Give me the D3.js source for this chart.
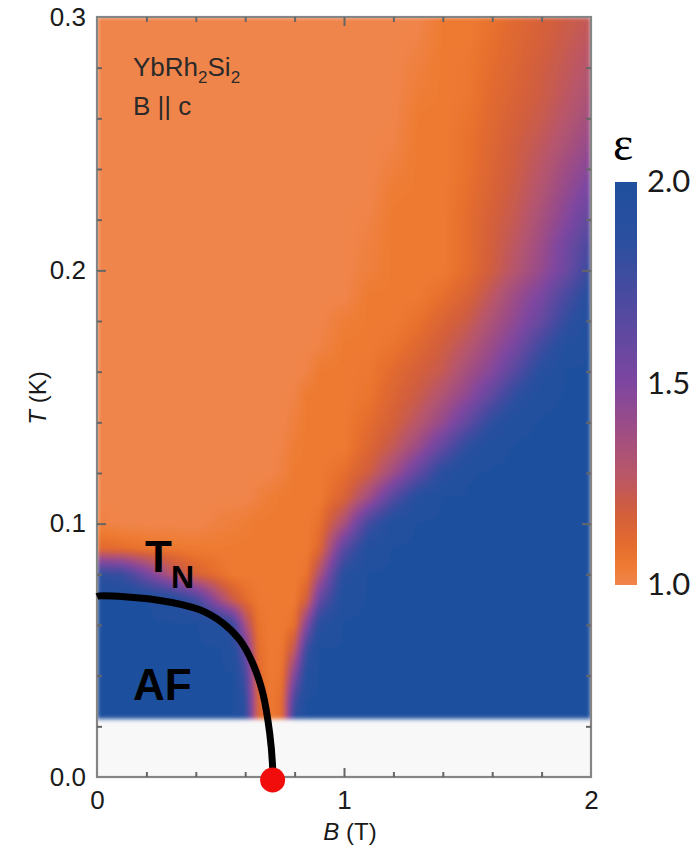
<!DOCTYPE html>
<html>
<head>
<meta charset="utf-8">
<script src="https://cdn.jsdelivr.net/npm/d3@7"></script>
<style>
  body { margin: 0; background: #fff; }
  svg { display: block; }
</style>
</head>
<body>
<svg id="chart" width="698" height="846"></svg>
<script>
// Field grid: magnetic field B (T) columns
const fieldB = [0, 0.1, 0.2, 0.3, 0.4, 0.5, 0.55, 0.6, 0.65, 0.7, 0.75, 0.8, 0.85, 0.9,
                1.0, 1.1, 1.2, 1.3, 1.4, 1.5, 1.6, 1.7, 1.8, 1.9, 2.0];
// Temperature rows (K), listed from the top of the diagram downwards
const fieldT = [0.30, 0.29, 0.28, 0.27, 0.26, 0.25, 0.24, 0.23, 0.22, 0.21, 0.20,
                0.19, 0.18, 0.17, 0.16, 0.15, 0.14, 0.13, 0.12, 0.11, 0.10,
                0.09, 0.08, 0.07, 0.06, 0.05, 0.04, 0.03, 0.023];
// Resistivity exponent epsilon, one row per temperature above
const epsRows = [
  [1,1,1,1,1,1,1,1,1,1,1,1,1,1,1,1,1,1,1.05,1.05,1.08,1.12,1.16,1.2,1.24],
  [1,1,1,1,1,1,1,1,1,1,1,1,1,1,1,1,1,1.01,1.05,1.05,1.09,1.13,1.17,1.22,1.27],
  [1,1,1,1,1,1,1,1,1,1,1,1,1,1,1,1,1,1.025,1.05,1.06,1.1,1.14,1.19,1.24,1.3],
  [1,1,1,1,1,1,1,1,1,1,1,1,1,1,1,1,1,1.035,1.05,1.06,1.11,1.15,1.2,1.26,1.33],
  [1,1,1,1,1,1,1,1,1,1,1,1,1,1,1,1,1,1.05,1.05,1.07,1.12,1.17,1.22,1.29,1.37],
  [1,1,1,1,1,1,1,1,1,1,1,1,1,1,1,1,1.01,1.05,1.05,1.08,1.13,1.19,1.25,1.33,1.42],
  [1,1,1,1,1,1,1,1,1,1,1,1,1,1,1,1,1.025,1.05,1.05,1.08,1.14,1.2,1.28,1.38,1.48],
  [1,1,1,1,1,1,1,1,1,1,1,1,1,1,1,1,1.045,1.05,1.05,1.09,1.15,1.22,1.31,1.43,1.55],
  [1,1,1,1,1,1,1,1,1,1,1,1,1,1,1,1.01,1.05,1.05,1.05,1.1,1.17,1.24,1.35,1.48,1.63],
  [1,1,1,1,1,1,1,1,1,1,1,1,1,1,1,1.02,1.05,1.05,1.05,1.1,1.18,1.27,1.39,1.55,1.72],
  [1,1,1,1,1,1,1,1,1,1,1,1,1,1,1,1.025,1.05,1.05,1.05,1.1,1.19,1.3,1.42,1.57,1.8],
  [1,1,1,1,1,1,1,1,1,1,1,1,1,1,1,1.05,1.05,1.05,1.09,1.15,1.26,1.4,1.52,1.72,1.9],
  [1,1,1,1,1,1,1,1,1,1,1,1,1,1,1.035,1.05,1.05,1.08,1.14,1.21,1.33,1.45,1.6,1.82,1.96],
  [1,1,1,1,1,1,1,1,1,1,1,1,1,1.01,1.05,1.05,1.07,1.12,1.19,1.28,1.4,1.54,1.76,1.94,2],
  [1,1,1,1,1,1,1,1,1,1,1,1,1.01,1.05,1.05,1.06,1.11,1.17,1.23,1.36,1.48,1.68,1.9,2,2],
  [1,1,1,1,1,1,1,1,1,1,1,1.01,1.05,1.05,1.05,1.07,1.14,1.21,1.32,1.45,1.64,1.86,1.98,2,2],
  [1,1,1,1,1,1,1,1,1,1,1,1.025,1.05,1.05,1.05,1.1,1.17,1.28,1.42,1.62,1.85,1.98,2,2,2],
  [1,1,1,1,1,1,1,1,1,1,1.01,1.04,1.05,1.05,1.05,1.13,1.24,1.4,1.62,1.86,1.98,2,2,2,2],
  [1,1,1,1,1,1,1,1,1,1,1.02,1.05,1.05,1.05,1.09,1.19,1.38,1.62,1.88,1.99,2,2,2,2,2],
  [1,1,1,1,1,1,1,1,1.02,1.04,1.05,1.05,1.05,1.05,1.15,1.38,1.68,1.92,2,2,2,2,2,2,2],
  [1.02,1,1,1,1,1.02,1.03,1.04,1.05,1.05,1.05,1.05,1.05,1.08,1.34,1.75,1.96,2,2,2,2,2,2,2,2],
  [1.12,1.1,1.07,1.06,1.05,1.05,1.05,1.05,1.05,1.05,1.05,1.05,1.05,1.12,1.65,1.95,2,2,2,2,2,2,2,2,2],
  [1.85,1.8,1.55,1.3,1.15,1.08,1.05,1.05,1.05,1.05,1.05,1.05,1.07,1.32,1.9,2,2,2,2,2,2,2,2,2,2],
  [2,2,2,1.95,1.75,1.35,1.2,1.1,1.06,1.05,1.05,1.05,1.17,1.6,1.97,2,2,2,2,2,2,2,2,2,2],
  [2,2,2,2,2,1.95,1.8,1.35,1.08,1.05,1.05,1.08,1.5,1.9,2,2,2,2,2,2,2,2,2,2,2],
  [2,2,2,2,2,2,1.95,1.6,1.1,1.05,1.06,1.25,1.8,2,2,2,2,2,2,2,2,2,2,2,2],
  [2,2,2,2,2,2,2,1.75,1.12,1.05,1.07,1.5,1.95,2,2,2,2,2,2,2,2,2,2,2,2],
  [2,2,2,2,2,2,2,1.85,1.15,1.05,1.1,1.75,2,2,2,2,2,2,2,2,2,2,2,2,2],
  [2,2,2,2,2,2,2,1.9,1.15,1.05,1.1,1.85,2,2,2,2,2,2,2,2,2,2,2,2,2]
];
// Neel temperature line T_N(B), ending at the critical field
const tnB = [0, 0.012, 0.242, 0.416, 0.509, 0.578, 0.630, 0.671, 0.699, 0.711, 0.711];
const tnT = [0.0712, 0.0715, 0.0699, 0.0660, 0.0608, 0.0541, 0.0450, 0.0332, 0.0174, 0.0039, 0];
const criticalB = 0.711;

// Tick labels
const xTickValues = [0, 1, 2];
const yTickValues = [0, 0.1, 0.2, 0.3];
const cbTickValues = [1.0, 1.5, 2.0];

// Colour map for epsilon
const cmapEps = [1.0, 1.05, 1.1, 1.18, 1.28, 1.4, 1.5, 1.7, 1.85, 2.0];
const cmapCol = ["#f0854b", "#ee7a30", "#e46c2e", "#d25e3c", "#b8566a",
                 "#9a4c88", "#7e46a0", "#4d4aa0", "#2c4f9f", "#1f4f9e"];

const svg = d3.select("#chart");
const x = d3.scaleLinear().domain([0, 2]).range([97, 591]);
const y = d3.scaleLinear().domain([0, 0.3]).range([777, 17]);
const color = d3.scaleLinear().domain(cmapEps).range(cmapCol).clamp(true);

const FONT = "'Liberation Sans', Arial, Helvetica, sans-serif";

// ---- plot background (region below the lowest measured temperature) ----
svg.append("rect")
  .attr("x", x(0)).attr("y", y(0.3))
  .attr("width", x(2) - x(0)).attr("height", y(0) - y(0.3))
  .attr("fill", "#f8f8f8");

// ---- epsilon map rendered into a canvas (bilinear shading between grid nodes) ----
const Tasc = fieldT.slice().reverse();
const Rasc = epsRows.slice().reverse();
function epsAt(b, t) {
  let i = d3.bisectRight(fieldB, b) - 1;
  i = Math.max(0, Math.min(fieldB.length - 2, i));
  let j = d3.bisectRight(Tasc, t) - 1;
  j = Math.max(0, Math.min(Tasc.length - 2, j));
  const fb = Math.max(0, Math.min(1, (b - fieldB[i]) / (fieldB[i + 1] - fieldB[i])));
  const ft = Math.max(0, Math.min(1, (t - Tasc[j]) / (Tasc[j + 1] - Tasc[j])));
  const r0 = Rasc[j], r1 = Rasc[j + 1];
  const v0 = r0[i] * (1 - fb) + r0[i + 1] * fb;
  const v1 = r1[i] * (1 - fb) + r1[i + 1] * fb;
  return v0 * (1 - ft) + v1 * ft;
}
const px0 = Math.floor(x(0)), px1 = Math.ceil(x(2));
const py0 = Math.floor(y(0.3)), py1 = Math.round(y(Tasc[0]));
const cw = px1 - px0, ch = py1 - py0;
const canvas = document.createElement("canvas");
canvas.width = cw; canvas.height = ch;
const ctx = canvas.getContext("2d");
const img = ctx.createImageData(cw, ch);
const lut = d3.range(501).map(k => d3.rgb(color(1 + k / 500)));
for (let py = 0; py < ch; py++) {
  const t = y.invert(py0 + py + 0.5);
  for (let px = 0; px < cw; px++) {
    const b = x.invert(px0 + px + 0.5);
    const v = epsAt(b, t);
    const c = lut[Math.max(0, Math.min(500, Math.round((v - 1) * 500)))];
    const o = (py * cw + px) * 4;
    img.data[o] = c.r; img.data[o + 1] = c.g; img.data[o + 2] = c.b; img.data[o + 3] = 255;
  }
}
ctx.putImageData(img, 0, 0);

const defs = svg.append("defs");
defs.append("clipPath").attr("id", "plotClip")
  .append("rect")
  .attr("x", x(0)).attr("y", y(0.3))
  .attr("width", x(2) - x(0)).attr("height", y(0) - y(0.3));
defs.append("filter").attr("id", "soft")
  .attr("x", "-2%").attr("y", "-2%").attr("width", "104%").attr("height", "104%")
  .append("feGaussianBlur").attr("stdDeviation", 2);

svg.append("g").attr("clip-path", "url(#plotClip)")
  .append("image")
  .attr("x", px0).attr("y", py0)
  .attr("width", cw).attr("height", ch)
  .attr("preserveAspectRatio", "none")
  .attr("filter", "url(#soft)")
  .attr("href", canvas.toDataURL());

// ---- frame and inward ticks ----
const tickColor = "#666";
svg.append("rect")
  .attr("x", x(0)).attr("y", y(0.3))
  .attr("width", x(2) - x(0)).attr("height", y(0) - y(0.3))
  .attr("fill", "none").attr("stroke", "#858585").attr("stroke-width", 2.2);

const xMinor = d3.range(0.2, 2, 0.2).filter(v => Math.abs(v - 1) > 1e-6);
const yMinor = d3.range(0.02, 0.3, 0.02).filter(v => Math.abs(v * 10 - Math.round(v * 10)) > 1e-6);

function styleAxis(g) {
  g.select(".domain").remove();
  g.selectAll(".tick line").attr("stroke", tickColor).attr("stroke-width", 2);
}
[[d3.axisBottom(x), y(0)], [d3.axisTop(x), y(0.3)]].forEach(([ax, pos]) => {
  svg.append("g").attr("transform", `translate(0,${pos})`)
    .call(ax.tickValues(xMinor).tickSize(-5).tickFormat(""))
    .call(styleAxis);
  svg.append("g").attr("transform", `translate(0,${pos})`)
    .call(ax.tickValues([1]).tickSize(-9).tickFormat(""))
    .call(styleAxis);
});
[[d3.axisLeft(y), x(0)], [d3.axisRight(y), x(2)]].forEach(([ax, pos]) => {
  svg.append("g").attr("transform", `translate(${pos},0)`)
    .call(ax.tickValues(yMinor).tickSize(-5).tickFormat(""))
    .call(styleAxis);
  svg.append("g").attr("transform", `translate(${pos},0)`)
    .call(ax.tickValues([0.1, 0.2]).tickSize(-9).tickFormat(""))
    .call(styleAxis);
});

// tick labels
const xLab = svg.append("g").attr("transform", `translate(0,${y(0)})`)
  .call(d3.axisBottom(x).tickValues(xTickValues).tickSize(0).tickPadding(14)
        .tickFormat(d3.format("d")));
xLab.select(".domain").remove();
xLab.selectAll("text").attr("font-family", FONT).attr("font-size", 26).attr("fill", "#1a1a1a");

const yLab = svg.append("g").attr("transform", `translate(${x(0)},0)`)
  .call(d3.axisLeft(y).tickValues(yTickValues).tickSize(0).tickPadding(11)
        .tickFormat(d3.format(".1f")));
yLab.select(".domain").remove();
yLab.selectAll("text").attr("font-family", FONT).attr("font-size", 26).attr("fill", "#1a1a1a");

// axis titles
const xt = svg.append("text").attr("x", 350).attr("y", 840)
  .attr("text-anchor", "middle").attr("font-family", FONT).attr("font-size", 24).attr("fill", "#1a1a1a");
xt.append("tspan").attr("font-style", "italic").text("B");
xt.append("tspan").text(" (T)");
const yt = svg.append("text").attr("transform", "translate(46,398) rotate(-90)")
  .attr("text-anchor", "middle").attr("font-family", FONT).attr("font-size", 24).attr("fill", "#1a1a1a");
yt.append("tspan").attr("font-style", "italic").text("T");
yt.append("tspan").text(" (K)");

// ---- sample annotation ----
const ann = svg.append("text").attr("x", 133).attr("y", 76)
  .attr("font-family", FONT).attr("font-size", 26).attr("fill", "#2a2a2a");
ann.append("tspan").text("YbRh");
ann.append("tspan").attr("font-size", 17).attr("dy", 7).text("2");
ann.append("tspan").attr("dy", -7).text("Si");
ann.append("tspan").attr("font-size", 17).attr("dy", 7).text("2");
svg.append("text").attr("x", 133).attr("y", 115)
  .attr("font-family", FONT).attr("font-size", 26).attr("fill", "#2a2a2a")
  .text("B || c");

// ---- T_N line and quantum critical point ----
const tnLine = d3.line().x(d => x(d[0])).y(d => y(d[1])).curve(d3.curveCatmullRom.alpha(0.5));
svg.append("path")
  .attr("d", tnLine(d3.zip(tnB, tnT)))
  .attr("fill", "none").attr("stroke", "#000").attr("stroke-width", 7)
  .attr("stroke-linecap", "butt");
svg.append("circle")
  .attr("cx", x(criticalB)).attr("cy", y(0) + 3).attr("r", 12.5)
  .attr("fill", "#f20d0d");

// phase labels
const tn = svg.append("text").attr("x", 145).attr("y", 572)
  .attr("font-family", FONT).attr("font-weight", "bold").attr("font-size", 44).attr("fill", "#000");
tn.append("tspan").text("T");
tn.append("tspan").attr("font-size", 32).attr("dx", -1).attr("dy", 16).text("N");
svg.append("text").attr("x", 133).attr("y", 700)
  .attr("font-family", FONT).attr("font-weight", "bold").attr("font-size", 44).attr("fill", "#000")
  .text("AF");

// ---- colour bar ----
const cb = d3.scaleLinear().domain([1, 2]).range([585, 182]);
const grad = defs.append("linearGradient").attr("id", "cbGrad")
  .attr("x1", 0).attr("y1", 1).attr("x2", 0).attr("y2", 0);
d3.range(0, 1.0001, 0.02).forEach(f => {
  grad.append("stop").attr("offset", f).attr("stop-color", color(1 + f));
});
svg.append("rect").attr("x", 615).attr("y", cb(2)).attr("width", 22)
  .attr("height", cb(1) - cb(2)).attr("fill", "url(#cbGrad)");
const cbAx = svg.append("g").attr("transform", "translate(637,0)")
  .call(d3.axisRight(cb).tickValues(cbTickValues).tickSize(0).tickPadding(10)
        .tickFormat(d3.format(".1f")));
cbAx.select(".domain").remove();
cbAx.selectAll("text").attr("font-family", "Lato, 'Open Sans', sans-serif")
  .attr("font-size", 31).attr("fill", "#1a1a1a");
svg.append("text").attr("x", 623).attr("y", 160).attr("text-anchor", "middle")
  .attr("font-family", "'Liberation Serif', 'DejaVu Serif', serif").attr("font-size", 48)
  .attr("fill", "#000").text("ε");
</script>
</body>
</html>
